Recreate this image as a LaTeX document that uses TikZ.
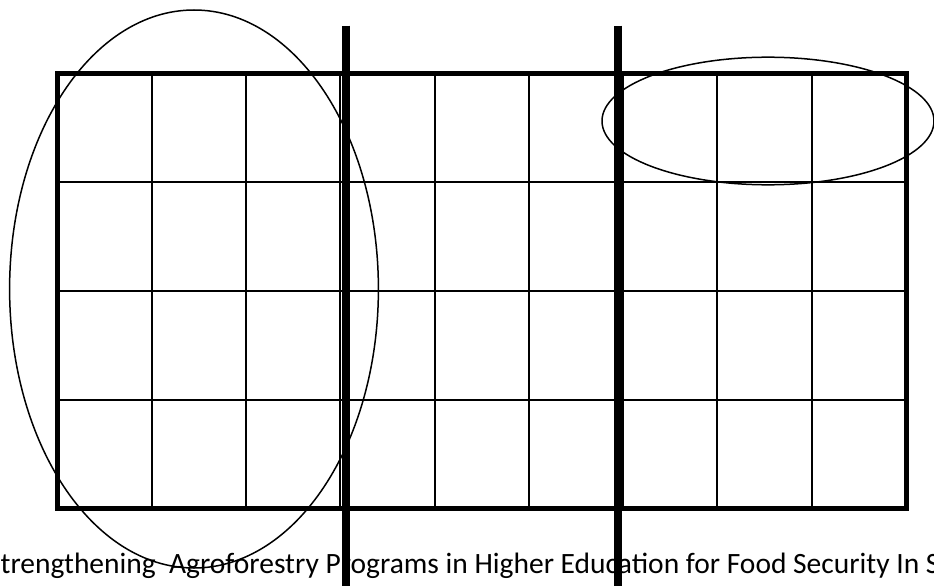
\documentclass[tikz,border=0pt]{standalone}
\usepackage{fontspec}
\setmainfont{Carlito}
\begin{document}
\begin{tikzpicture}[x=1pt,y=-1pt,
  thinline/.style={line width=2pt,black},
  frameline/.style={line width=5pt,black},
  barline/.style={line width=8pt,black},
  ringline/.style={line width=1.5pt,black},
  caption/.style={anchor=base west,inner sep=0pt,font=\fontsize{29.5}{34}\selectfont}]
\useasboundingbox (0,0) rectangle (934,586);
\begin{scope}
\clip (0,0) rectangle (934,586);
% caption text (clipped at both sides)
\node[caption] (cap) at (0.5,573) {trengthening\ \ Agroforestry Programs in Higher Education for Food Security In S};
% inner grid lines
\foreach \i in {1,...,8} {
  \draw[thinline] ({57.5+\i*94.28},73.5) -- ({57.5+\i*94.28},508.5);
}
\foreach \j in {1,2,3} {
  \draw[thinline] (57.5,{73.5+\j*108.75}) -- (906,{73.5+\j*108.75});
}
% outer frame
\draw[frameline] (57.5,73.5) rectangle (906,508.5);
% thick vertical bars
\draw[barline] (346,25.7) -- (346,590);
\draw[barline] (618,25.7) -- (618,590);
% ellipses
\draw[ringline] (194,289) ellipse [x radius=184.4, y radius=279];
\draw[ringline] (768,121) ellipse [x radius=166, y radius=63.8];
\end{scope}
\end{tikzpicture}
\end{document}
